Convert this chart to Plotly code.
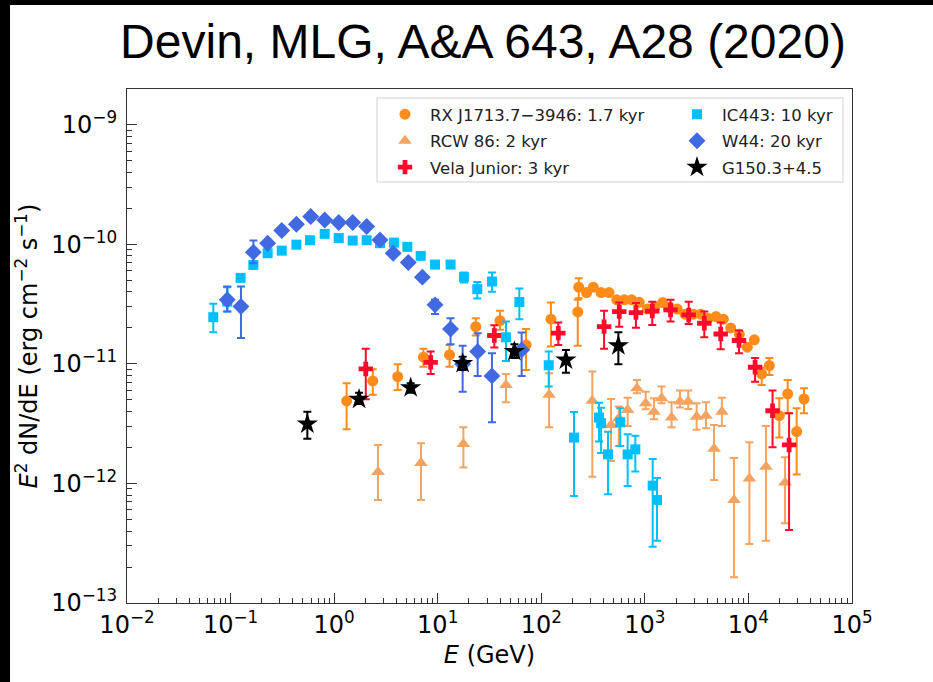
import plotly.graph_objects as go

# ---------------- data ----------------
# RX J1713.7-3946 (orange circles)
rx_E = [1.32, 2.36, 4.11, 7.28, 13.0, 23.3, 39.9, 71.3, 124, 225, 230, 274, 318, 378, 451, 535,
        634, 746, 883, 1057, 1253, 1486, 1722, 2056, 2443, 2938, 3459, 4102, 4864, 5728, 6745,
        8166, 9750, 11400, 13430, 15920, 19860, 23930, 29240, 34430]
rx_F = [4.90e-12, 7.21e-12, 7.83e-12, 1.14e-11, 1.19e-11, 2.05e-11, 2.30e-11, 1.44e-11, 2.37e-11,
        2.72e-11, 4.39e-11, 3.95e-11, 4.39e-11, 3.95e-11, 3.95e-11, 3.44e-11, 3.44e-11, 3.44e-11,
        3.28e-11, 2.88e-11, 3.02e-11, 3.26e-11, 2.98e-11, 2.88e-11, 2.61e-11, 2.61e-11, 2.61e-11,
        2.41e-11, 2.49e-11, 2.37e-11, 2.00e-11, 1.77e-11, 1.38e-11, 1.59e-11, 8.24e-12, 9.68e-12,
        3.69e-12, 5.61e-12, 2.72e-12, 5.09e-12]
rx_hi = [6.89e-12, 9.04e-12, 9.95e-12, 1.34e-11, 1.44e-11, 2.41e-11, 2.79e-11, 1.96e-11, 3.26e-11,
         3.44e-11, 5.21e-11] + [None] * 23 + [9.31e-12, 1.12e-11, 5.16e-12, 7.35e-12, 4.26e-12, 6.27e-12]
rx_lo = [2.84e-12, 5.51e-12, 6.05e-12, 9.49e-12, 9.49e-12, 1.73e-11, 1.93e-11, 8.91e-12, 1.40e-11,
         1.42e-11, 3.55e-11] + [None] * 23 + [6.67e-12, 8.09e-12, 2.42e-12, 3.86e-12, 1.19e-12, 3.86e-12]

# RCW 86 (sandy triangles)
rcw_E = [2.65, 6.90, 17.7, 45.6, 119, 311, 471, 560, 682, 839, 1019, 1225, 1452, 1811, 2183, 2624,
         3162, 3890, 4656, 5546, 7261, 10210, 14790, 22540]
rcw_F = [1.25e-12, 1.48e-12, 2.14e-12, 6.67e-12, 5.51e-12, 4.93e-12, 3.09e-12, 3.52e-12, 4.12e-12,
         6.27e-12, 4.69e-12, 3.99e-12, 5.16e-12, 3.56e-12, 4.84e-12, 4.84e-12, 3.62e-12, 3.69e-12,
         1.95e-12, 3.99e-12, 7.28e-13, 1.10e-12, 1.38e-12, 1.02e-12]
rcw_hi = [2.10e-12, 2.17e-12, 2.95e-12, 8.24e-12, 8.35e-12, 8.63e-12, 5.09e-12, 4.40e-12, 5.22e-12,
          7.35e-12, 5.86e-12, 5.16e-12, 6.46e-12, 4.79e-12, 5.98e-12, 5.98e-12, 4.69e-12, 4.79e-12,
          3.09e-12, 5.22e-12, 1.63e-12, 2.21e-12, 3.03e-12, 1.66e-12]
rcw_lo = [7.28e-13, 7.28e-13, 1.36e-12, 4.79e-12, 2.95e-12, 1.14e-12, 1.54e-12, 2.06e-12, 3.03e-12,
          5.69e-12, 4.18e-12, 3.44e-12, 4.69e-12, 2.95e-12, 4.31e-12, 4.20e-12, 2.81e-12, 2.90e-12,
          1.07e-12, 3.03e-12, 1.64e-13, 3.12e-13, 3.32e-13, 4.65e-13]

# Vela Junior (red plus)
vela_E = [2.02, 8.55, 35.2, 146, 404, 566, 820, 1180, 1770, 2650, 3750, 5400, 8110, 11600, 17100, 24700]
vela_F = [9.08e-12, 1.03e-11, 1.73e-11, 1.81e-11, 2.05e-11, 2.74e-11, 2.69e-11, 2.77e-11, 2.83e-11,
          2.57e-11, 2.19e-11, 1.78e-11, 1.57e-11, 9.38e-12, 4.06e-12, 2.10e-12]
vela_hi = [1.34e-11, 1.27e-11, 2.11e-11, 2.22e-11, 2.78e-11, 3.26e-11, 3.24e-11, 3.32e-11, 3.44e-11,
           3.32e-11, 2.74e-11, 2.22e-11, 1.90e-11, 1.12e-11, 5.98e-12, 3.86e-12]
vela_lo = [5.07e-12, 8.24e-12, 1.37e-11, 1.44e-11, 1.34e-11, 2.05e-11, 2.01e-11, 2.12e-11, 2.26e-11,
           2.16e-11, 1.67e-11, 1.33e-11, 1.23e-11, 7.11e-12, 2.01e-12, 4.08e-13]

# IC443 (sky-blue squares)
ic_E = [0.0681, 0.0929, 0.125, 0.166, 0.228, 0.312, 0.432, 0.585, 0.811, 1.107, 1.51, 2.06, 2.77,
        3.78, 5.09, 6.85, 9.42, 13.3, 17.9, 24.1, 33.4, 45.6, 61.4, 118, 207, 361, 378, 441, 579,
        682, 809, 1190, 1310]
ic_F = [2.46e-11, 3.32e-11, 5.25e-11, 6.73e-11, 8.43e-11, 8.87e-11, 9.95e-11, 1.084e-10, 1.225e-10,
        1.132e-10, 1.076e-10, 1.084e-10, 1.023e-10, 1.035e-10, 9.53e-11, 8.02e-11, 6.78e-11, 6.78e-11,
        5.32e-11, 4.22e-11, 4.89e-11, 1.67e-11, 3.30e-11, 9.75e-12, 2.42e-12, 3.56e-12, 3.19e-12,
        1.75e-12, 3.25e-12, 1.75e-12, 1.93e-12, 9.59e-13, 7.28e-13]
ic_hi = [3.18e-11, 4.39e-11] + [None] * 16 + [5.81e-11, 4.85e-11, 5.81e-11, 2.26e-11, 4.27e-11,
         1.27e-11, 3.96e-12, 4.74e-12, 4.29e-12, 2.71e-12, 4.26e-12, 2.58e-12, 2.51e-12, 1.60e-12, 1.11e-12]
ic_lo = [1.84e-11, 2.75e-11] + [None] * 16 + [4.79e-11, 3.52e-11, 4.01e-11, 1.06e-11, 2.37e-11,
         6.46e-12, 7.85e-13, 2.24e-12, 1.80e-12, 8.13e-13, 2.06e-12, 9.53e-13, 1.26e-12, 2.96e-13, 3.32e-13]

# W44 (royal-blue diamonds)
w44_E = [0.0929, 0.126, 0.166, 0.228, 0.312, 0.432, 0.594, 0.811, 1.107, 1.51, 2.06, 2.77, 3.72,
         5.2, 7.11, 9.42, 13.3, 17.4, 24.3, 33.4, 64.6]
w44_F = [3.44e-11, 3.02e-11, 8.61e-11, 1.023e-10, 1.306e-10, 1.476e-10, 1.71e-10, 1.60e-10, 1.524e-10,
         1.524e-10, 1.41e-10, 1.09e-10, 8.43e-11, 7.05e-11, 5.32e-11, 3.12e-11, 1.96e-11, 1.0e-11,
         1.27e-11, 7.94e-12, 1.31e-11]
w44_hi = [4.44e-11, 4.44e-11, 1.076e-10] + [None] * 12 + [3.44e-11, 2.41e-11, 1.42e-11, 1.81e-11, 1.23e-11, 1.83e-11]
w44_lo = [2.74e-11, 1.65e-11, 6.97e-11] + [None] * 12 + [2.62e-11, 1.46e-11, 5.86e-12, 7.94e-12, 3.25e-12, 7.94e-12]

# G150.3+4.5 (black stars)
g150_E = [0.551, 1.74, 5.48, 17.4, 55.0, 173, 555]
g150_F = [3.15e-12, 5.07e-12, 6.34e-12, 1.01e-11, 1.27e-11, 1.08e-11, 1.42e-11]
g150_hi = [3.99e-12, 5.75e-12, 6.9e-12, 1.15e-11, 1.46e-11, 1.31e-11, 1.84e-11]
g150_lo = [2.37e-12, 4.62e-12, 5.75e-12, 8.91e-12, 1.12e-11, 8.45e-12, 9.93e-12]

x_tick_vals = [1e-2, 1e-1, 1e0, 1e1, 1e2, 1e3, 1e4, 1e5]
x_tick_text = ["10<sup>−2</sup>", "10<sup>−1</sup>", "10<sup>0</sup>", "10<sup>1</sup>",
               "10<sup>2</sup>", "10<sup>3</sup>", "10<sup>4</sup>", "10<sup>5</sup>"]
y_tick_vals = [1e-13, 1e-12, 1e-11, 1e-10, 1e-9]
y_tick_text = ["10<sup>−13</sup>", "10<sup>−12</sup>", "10<sup>−11</sup>", "10<sup>−10</sup>", "10<sup>−9</sup>"]


def minor_ticks(lo_exp, hi_exp, upper):
    out = []
    for e in range(lo_exp, hi_exp + 1):
        for k in range(2, 10):
            v = k * 10.0 ** e
            if v < upper:
                out.append(v)
    return out


def errs(F, hi, lo):
    plus = [0 if h is None else h - f for f, h in zip(F, hi)]
    minus = [0 if l is None else f - l for f, l in zip(F, lo)]
    return plus, minus


series = [
    # name, E, F, hi, lo, color, symbol, size, legend, rank
    ("RX J1713.7−3946: 1.7 kyr", rx_E, rx_F, rx_hi, rx_lo, "#FF8C1A", "circle", 11, "legend", 1),
    ("RCW 86: 2 kyr", rcw_E, rcw_F, rcw_hi, rcw_lo, "#F4A460", "triangle-up", 12, "legend", 2),
    ("Vela Junior: 3 kyr", vela_E, vela_F, vela_hi, vela_lo, "#FF0A2A", "cross", 12, "legend", 3),
    ("IC443: 10 kyr", ic_E, ic_F, ic_hi, ic_lo, "#00BFFF", "square", 10, "legend2", 1),
    ("W44: 20 kyr", w44_E, w44_F, w44_hi, w44_lo, "#4169E1", "diamond", 13, "legend2", 2),
    ("G150.3+4.5", g150_E, g150_F, g150_hi, g150_lo, "black", "star", 16, "legend2", 3),
]

fig = go.Figure()
for name, E, F, hi, lo, col, sym, size, leg, rank in series:
    plus, minus = errs(F, hi, lo)
    fig.add_trace(go.Scatter(
        x=E, y=F, mode="markers", name=name, legend=leg, legendrank=rank, legendgroup=name,
        marker=dict(symbol=sym, size=size, color=col, line=dict(width=0)),
        error_y=dict(type="data", symmetric=False, array=plus, arrayminus=minus,
                     color=col, thickness=2, width=4),
    ))

axis_font = dict(family="DejaVu Sans", size=24, color="black")

fig.update_xaxes(
    type="log", range=[-2, 5], tickmode="array", tickvals=x_tick_vals, ticktext=x_tick_text,
    ticks="inside", ticklen=10, tickwidth=1, tickcolor="#333",
    showline=True, linecolor="#333", linewidth=1.2, mirror=True, showgrid=False, zeroline=False,
    tickfont=axis_font,
    minor=dict(tickmode="array", tickvals=minor_ticks(-2, 4, 1e5), ticks="inside", ticklen=5,
               tickwidth=1, tickcolor="#333", showgrid=False),
    title=dict(text="<i>E</i> (GeV)", font=axis_font, standoff=8),
)
fig.update_yaxes(
    type="log", range=[-13, -8.7], tickmode="array", tickvals=y_tick_vals, ticktext=y_tick_text,
    ticks="inside", ticklen=10, tickwidth=1, tickcolor="#333", ticklabelstandoff=4,
    showline=True, linecolor="#333", linewidth=1.2, mirror=True, showgrid=False, zeroline=False,
    tickfont=axis_font,
    minor=dict(tickmode="array", tickvals=minor_ticks(-13, -10, 1.9e-9), ticks="inside", ticklen=5,
               tickwidth=1, tickcolor="#333", showgrid=False),
    title=dict(text="<i>E</i><sup>2</sup> dN/dE (erg cm<sup>−2</sup> s<sup>−1</sup>)",
               font=axis_font, standoff=6),
)

# pixel -> paper helpers for decorations
L, T, W, H = 127, 89, 725, 514
def px_x(p):
    return (p - L) / W
def px_y(p):
    return (T + H - p) / H

# black edges of the screenshot
fig.add_shape(type="rect", xref="paper", yref="paper", x0=px_x(0), x1=px_x(10), y0=px_y(682), y1=px_y(0),
              fillcolor="black", line=dict(width=0), layer="above")
fig.add_shape(type="rect", xref="paper", yref="paper", x0=px_x(0), x1=px_x(933), y0=px_y(5), y1=px_y(0),
              fillcolor="black", line=dict(width=0), layer="above")
# legend frame
fig.add_shape(type="rect", xref="paper", yref="paper", x0=px_x(377), x1=px_x(843), y0=px_y(182), y1=px_y(98),
              fillcolor="rgba(255,255,255,0.85)", line=dict(color="#d0d0d0", width=1), layer="above")

leg_common = dict(orientation="v", xanchor="left", yanchor="top", bgcolor="rgba(0,0,0,0)",
                  borderwidth=0, font=dict(family="DejaVu Sans", size=16.5, color="#222"),
                  itemwidth=40, tracegroupgap=2, traceorder="grouped")

fig.update_layout(
    width=933, height=682,
    margin=dict(l=127, r=81, t=89, b=79),
    paper_bgcolor="white", plot_bgcolor="white",
    title=dict(text="Devin, MLG, A&A 643, A28 (2020)", x=483 / 933, xanchor="center",
               y=1 - 41 / 682, yanchor="middle", xref="container", yref="container",
               font=dict(family="Liberation Sans", size=48, color="black")),
    legend=dict(x=px_x(380), y=px_y(97), **leg_common),
    legend2=dict(x=px_x(672), y=px_y(97), **leg_common),
    showlegend=True,
)

fig.write_html("out.html")
